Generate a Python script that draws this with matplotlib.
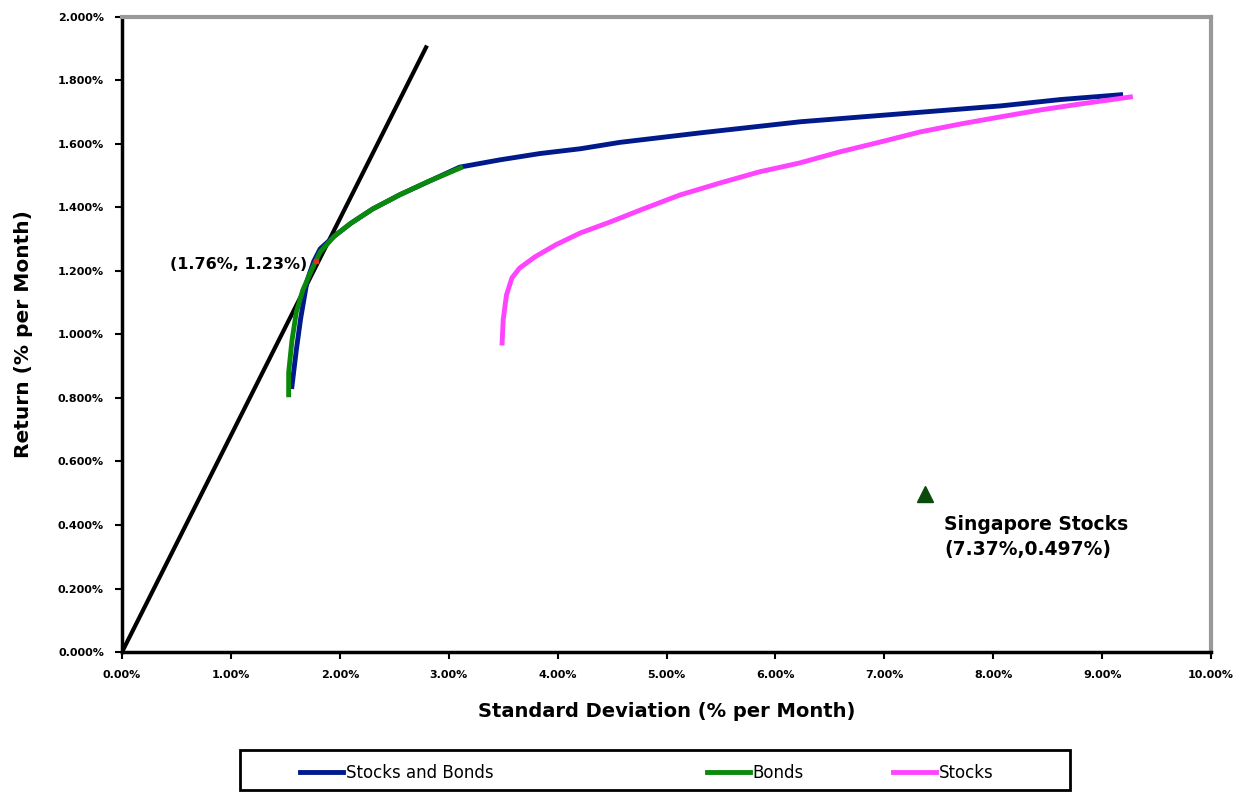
"""Efficient frontier chart: stocks, bonds and combined portfolio."""

import matplotlib
matplotlib.use("Agg")
import matplotlib.pyplot as plt
import matplotlib.ticker as mticker
from matplotlib.patches import Rectangle

# --- data (% per month) ---
sb_std = [1.56, 1.60, 1.64, 1.70, 1.76, 1.82, 1.95, 2.10, 2.30, 2.55, 2.74, 3.10,
          3.47, 3.84, 4.21, 4.57, 5.31, 6.23, 7.15, 8.07, 8.62, 9.17]
sb_ret = [0.836, 0.95, 1.05, 1.17, 1.23, 1.27, 1.31, 1.35, 1.395, 1.44, 1.47, 1.527,
          1.55, 1.57, 1.585, 1.605, 1.635, 1.67, 1.695, 1.72, 1.74, 1.755]

bonds_std = [1.53, 1.53, 1.56, 1.60, 1.66, 1.75, 1.82, 1.95, 2.10, 2.30, 2.55, 2.80, 3.11]
bonds_ret = [0.81, 0.88, 0.98, 1.07, 1.14, 1.21, 1.26, 1.31, 1.35, 1.395, 1.44, 1.48, 1.525]

stocks_std = [3.49, 3.50, 3.53, 3.58, 3.65, 3.79, 3.98, 4.21, 4.48, 4.76, 5.12, 5.49,
              5.85, 6.22, 6.59, 6.96, 7.33, 7.70, 8.06, 8.43, 8.80, 9.26]
stocks_ret = [0.973, 1.046, 1.124, 1.178, 1.209, 1.244, 1.282, 1.320, 1.354, 1.392,
              1.439, 1.477, 1.512, 1.540, 1.575, 1.606, 1.638, 1.663, 1.685, 1.707,
              1.726, 1.748]

cml_std = [0.0, 2.80]
cml_ret = [0.0, 1.91]

tangent = (1.78, 1.23)
singapore = (7.37, 0.497)

fig = plt.figure(figsize=(12.44, 7.93), dpi=100, facecolor="white")
ax = fig.add_axes([0.0981, 0.1778, 0.8754, 0.8008])

ax.plot(cml_std, cml_ret, color="black", linewidth=3, solid_capstyle="butt")
l1, = ax.plot(sb_std, sb_ret, color="#001a8c", linewidth=3.5, label="Stocks and Bonds")
l2, = ax.plot(bonds_std, bonds_ret, color="#0a8a0a", linewidth=3.5, label="Bonds")
l3, = ax.plot(stocks_std, stocks_ret, color="#ff44ff", linewidth=3.5, label="Stocks")
ax.plot(*tangent, marker="s", color="#e03020", markersize=3)
ax.plot(*singapore, marker="^", color="#0a4a0a", markersize=11)

ax.text(tangent[0] - 0.08, tangent[1] - 0.01, "(1.76%, 1.23%)", ha="right", va="center",
        fontsize=11.5, fontweight="bold")
ax.text(7.55, 0.43, "Singapore Stocks\n(7.37%,0.497%)", ha="left", va="top",
        fontsize=13.5, fontweight="bold", linespacing=1.35)

ax.set_xlim(0, 10)
ax.set_ylim(0, 2.0)
ax.set_xticks([i for i in range(0, 11)])
ax.set_yticks([i * 0.2 for i in range(0, 11)])
ax.xaxis.set_major_formatter(mticker.FuncFormatter(lambda v, _: f"{v:.2f}%"))
ax.yaxis.set_major_formatter(mticker.FuncFormatter(lambda v, _: f"{v:.3f}%"))
for lab in ax.get_xticklabels() + ax.get_yticklabels():
    lab.set_fontweight("bold")
ax.tick_params(axis="both", direction="out", length=5, width=1.5, labelsize=8, pad=8)

ax.set_xlabel("Standard Deviation (% per Month)", fontsize=14, fontweight="bold", labelpad=16)
ax.set_ylabel("Return (% per Month)", fontsize=14.5, fontweight="bold", labelpad=18)

for side in ("left", "bottom"):
    ax.spines[side].set_color("black")
    ax.spines[side].set_linewidth(2.5)
for side in ("top", "right"):
    ax.spines[side].set_color("#999999")
    ax.spines[side].set_linewidth(3)

# legend: bordered box at the bottom, entries placed like the original
fig.add_artist(Rectangle((240 / 1244, 3 / 793), 830 / 1244, 40 / 793,
                         transform=fig.transFigure, facecolor="white",
                         edgecolor="black", linewidth=2))
for handle, x0 in ((l1, 300 / 1244), (l2, 707 / 1244), (l3, 893 / 1244)):
    fig.legend(handles=[handle], loc="center left", bbox_to_anchor=(x0, 20 / 793),
               fontsize=12, frameon=False, handlelength=2.6, handletextpad=0.15,
               borderpad=0, borderaxespad=0)

fig.savefig("out.png", dpi=100, facecolor="white")
